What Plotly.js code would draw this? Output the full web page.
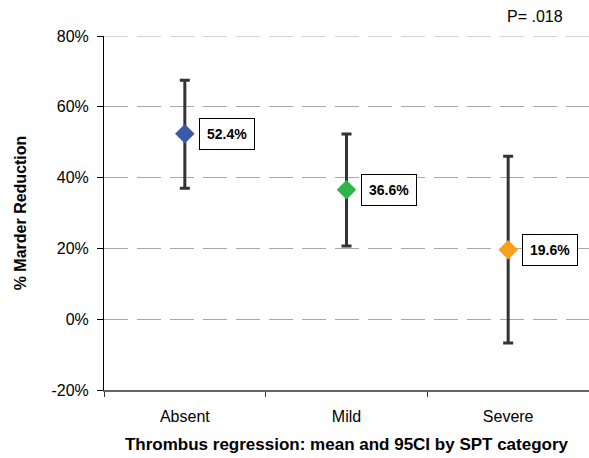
<!DOCTYPE html>
<html>
<head>
<meta charset="utf-8">
<script src="https://cdn.plot.ly/plotly-3.0.1.min.js"></script>
<style>html,body{margin:0;padding:0;background:#fff;}#chart{width:589px;height:458px;}</style>
</head>
<body>
<div id="chart"></div>
<script>
const categories = ["Absent", "Mild", "Severe"];
const means = [52.4, 36.6, 19.6];
const lowerCI = [37.0, 20.7, -6.7];
const upperCI = [67.5, 52.3, 46.0];
const labels = ["52.4%", "36.6%", "19.6%"];
const markerColors = ["#3c58a8", "#2fb34a", "#f6a01e"];
const yTicks = [-20, 0, 20, 40, 60, 80];
const pText = "P= .018";

const trace = {
  type: "scatter",
  mode: "markers",
  x: categories,
  y: means,
  marker: {symbol: "diamond", size: 15, color: markerColors, line: {width: 0}},
  error_y: {
    type: "data",
    symmetric: false,
    array: upperCI.map((u, i) => u - means[i]),
    arrayminus: means.map((m, i) => m - lowerCI[i]),
    color: "#333333",
    thickness: 3,
    width: 5
  },
  hoverinfo: "none",
  showlegend: false
};

const FONT = "Liberation Sans, Arial, sans-serif";

const annotations = categories.map((c, i) => ({
  x: c, y: means[i], xref: "x", yref: "y",
  text: "<b>" + labels[i] + "</b>",
  showarrow: false, xanchor: "left", yanchor: "middle",
  xshift: 14,
  font: {family: FONT, size: 14, color: "#000"},
  bordercolor: "#000", borderwidth: 1, borderpad: 7, bgcolor: "#fff"
}));
annotations.push({
  x: (535 - 104) / 485, y: (458 - 68 - 16.5) / 354, xref: "paper", yref: "paper",
  xanchor: "center", yanchor: "middle",
  text: pText, showarrow: false,
  font: {family: FONT, size: 16, color: "#000"}
});

const layout = {
  width: 589, height: 458,
  margin: {l: 104, r: 0, t: 36, b: 68},
  paper_bgcolor: "#fff", plot_bgcolor: "#fff",
  font: {family: FONT, size: 16, color: "#000"},
  xaxis: {
    type: "category",
    range: [-0.5, 2.5],
    showgrid: false, zeroline: false,
    showline: true, linecolor: "#666", linewidth: 2,
    ticks: "outside", tickson: "boundaries", ticklen: 5, tickcolor: "#333", tickwidth: 1,
    ticklabelstandoff: 11,
    tickfont: {size: 16},
    title: {text: "<b>Thrombus regression: mean and 95CI by SPT category</b>", font: {size: 17}, standoff: 14}
  },
  yaxis: {
    range: [-20, 80],
    tickvals: yTicks,
    ticktext: yTicks.map(v => v + "%"),
    showgrid: true, gridcolor: "#a8a8a8", gridwidth: 1, griddash: "24px,9px",
    zeroline: false,
    showline: true, linecolor: "#000", linewidth: 1,
    ticks: "outside", ticklen: 6, tickcolor: "#000",
    ticklabelstandoff: 5,
    tickfont: {size: 16},
    title: {text: "<b>% Marder Reduction</b>", font: {size: 16}, standoff: 20}
  },
  shapes: [{
    type: "line", xref: "paper", yref: "y", x0: 0, x1: 1, y0: 80, y1: 80,
    line: {color: "#a8a8a8", width: 1, dash: "24px,9px"}, layer: "below"
  }],
  annotations: annotations
};

Plotly.newPlot("chart", [trace], layout, {displayModeBar: false, staticPlot: true});
</script>
</body>
</html>
